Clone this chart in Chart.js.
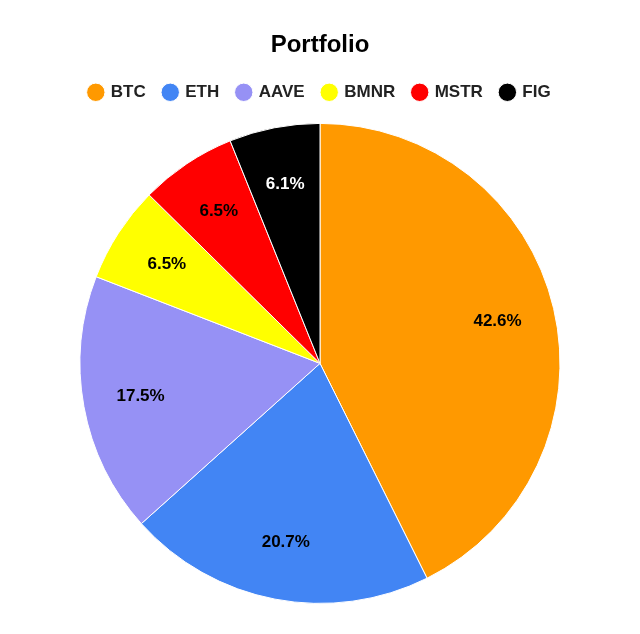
<!DOCTYPE html>
<html>
<head>
<meta charset="utf-8">
<script src="https://cdn.jsdelivr.net/npm/chart.js@4"></script>
<style>
  html, body { margin: 0; padding: 0; background: #fff; }
  #wrap { width: 640px; height: 634px; }
</style>
</head>
<body>
<div id="wrap"><canvas id="myPieChart" width="640" height="634"></canvas></div>
<script>
var labelData = ["BTC", "ETH", "AAVE", "BMNR", "MSTR", "FIG"];
var numericData = [42.6, 20.7, 17.5, 6.5, 6.5, 6.1];
var sliceColors = ["#ff9900", "#4285f4", "#9691f5", "#ffff00", "#ff0000", "#000000"];
var textColors = ["#000", "#000", "#000", "#000", "#000", "#fff"];

// percentage labels inside each slice
var sliceLabels = {
    id: 'sliceLabels',
    afterDatasetsDraw: function(chart) {
        var ctx = chart.ctx;
        var meta = chart.getDatasetMeta(0);
        ctx.save();
        ctx.font = 'bold 17px "Liberation Sans", Arial, sans-serif';
        ctx.textAlign = 'center';
        ctx.textBaseline = 'middle';
        meta.data.forEach(function(arc, i) {
            var p = arc.getProps(['x', 'y', 'startAngle', 'endAngle', 'outerRadius'], true);
            var mid = (p.startAngle + p.endAngle) / 2;
            var r = p.outerRadius * 0.76;
            ctx.fillStyle = textColors[i];
            ctx.fillText(numericData[i].toFixed(1) + '%', p.x + Math.cos(mid) * r, p.y + Math.sin(mid) * r);
        });
        ctx.restore();
    }
};

new Chart(document.getElementById("myPieChart"), {
    type: 'pie',
    data: {
        labels: labelData,
        datasets: [{
            data: numericData,
            backgroundColor: sliceColors,
            borderColor: '#ffffff',
            borderWidth: 1,
            radius: 240
        }]
    },
    options: {
        responsive: false,
        animation: false,
        layout: { padding: { bottom: 18 } },
        plugins: {
            title: {
                display: true,
                text: 'Portfolio',
                color: '#000',
                font: { family: '"Liberation Sans", Arial, sans-serif', size: 24, weight: 'bold' },
                padding: { top: 31, bottom: 6 }
            },
            legend: {
                position: 'top',
                labels: {
                    color: '#222',
                    font: { family: '"Liberation Sans", Arial, sans-serif', size: 17, weight: 'bold' },
                    usePointStyle: true,
                    pointStyle: 'circle',
                    boxWidth: 13,
                    boxHeight: 13,
                    padding: 18
                }
            },
            tooltip: { enabled: false }
        }
    },
    plugins: [sliceLabels]
});
</script>
</body>
</html>
